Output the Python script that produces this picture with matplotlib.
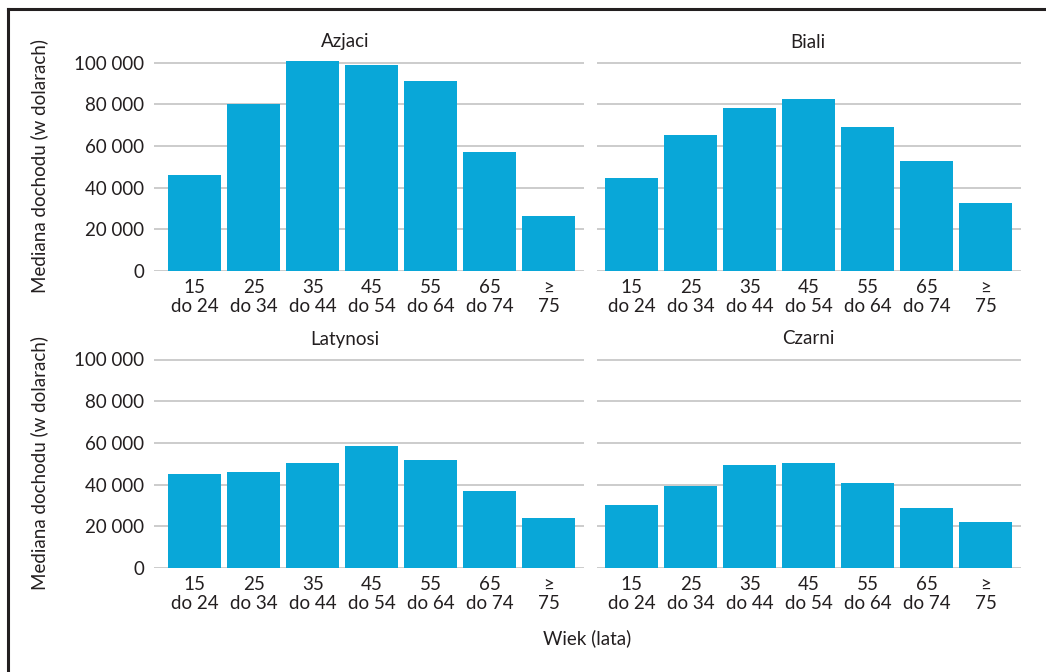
import matplotlib.pyplot as plt
from matplotlib.lines import Line2D
from matplotlib.ticker import FuncFormatter

# age groups (x categories)
age_labels = ["15\ndo 24", "25\ndo 34", "35\ndo 44", "45\ndo 54",
              "55\ndo 64", "65\ndo 74", "\u2265\n75"]

# median income per group (USD)
azjaci = [46000, 80000, 100500, 99000, 91000, 57000, 26500]
biali = [44700, 65200, 78000, 82300, 69200, 52700, 32400]
latynosi = [45300, 46200, 50500, 58600, 52000, 37000, 24100]
czarni = [30200, 39500, 49500, 50400, 40600, 28800, 22200]

titles = ["Azjaci", "Biali", "Latynosi", "Czarni"]
series = [azjaci, biali, latynosi, czarni]

plt.rcParams['font.family'] = ['Lato', 'DejaVu Sans']

W, H = 1046, 672
fig = plt.figure(figsize=(W / 100, H / 100), dpi=100)

BAR = "#09a7d8"
GRID = "#cccccc"
TXT = "#231f20"
FS = 13.5

# axes boxes in pixels: (left, right, top, bottom)
boxes = [(154, 584, 61, 271), (597, 1021, 61, 271),
         (154, 584, 358, 568), (597, 1021, 358, 568)]
xlims = [(-0.69, 6.6), (-0.59, 6.6), (-0.69, 6.6), (-0.59, 6.6)]
title_x = [0.444, 0.498, 0.444, 0.498]

fmt = FuncFormatter(lambda v, p: f"{int(v):,}".replace(",", " "))

for i, (vals, title) in enumerate(zip(series, titles)):
    l, r, t, b = boxes[i]
    ax = fig.add_axes([l / W, 1 - b / H, (r - l) / W, (b - t) / H])
    ax.bar(range(len(vals)), vals, width=0.9, color=BAR, zorder=3)
    ax.set_xlim(*xlims[i])
    ax.set_ylim(0, 100000 * (b - t) / 208.5)
    ax.set_yticks(range(0, 100001, 20000))
    ax.yaxis.set_major_formatter(fmt)
    ax.grid(axis="y", color=GRID, linewidth=1.4, zorder=0)
    ax.set_xticks(range(len(age_labels)))
    ax.set_xticklabels(age_labels, fontsize=FS, color=TXT, linespacing=1.15)
    ax.tick_params(axis="both", length=0, labelsize=FS, labelcolor=TXT)
    ax.tick_params(axis="x", pad=6)
    ax.tick_params(axis="y", pad=7)
    for s in ax.spines.values():
        s.set_visible(False)
    if i % 2 == 1:
        ax.tick_params(axis="y", labelleft=False)
    else:
        ax.set_ylabel("Mediana dochodu (w dolarach)", fontsize=FS, color=TXT)
        ax.yaxis.set_label_coords((48 - l) / (r - l), 0.5)
    ax.text(title_x[i], 1 + 19 / (b - t), title, transform=ax.transAxes,
            ha="center", va="center", fontsize=FS, color=TXT)

fig.text(587.5 / W, 1 - 638 / H, "Wiek (lata)", ha="center", va="center",
         fontsize=FS, color=TXT)

# frame lines (top and left)
fig.add_artist(Line2D([8 / W, 1], [1 - 9 / H, 1 - 9 / H], color="#231f20", linewidth=2.2))
fig.add_artist(Line2D([8 / W, 8 / W], [0, 1 - 9 / H], color="#231f20", linewidth=2.2))

fig.savefig("out.png", dpi=100)
